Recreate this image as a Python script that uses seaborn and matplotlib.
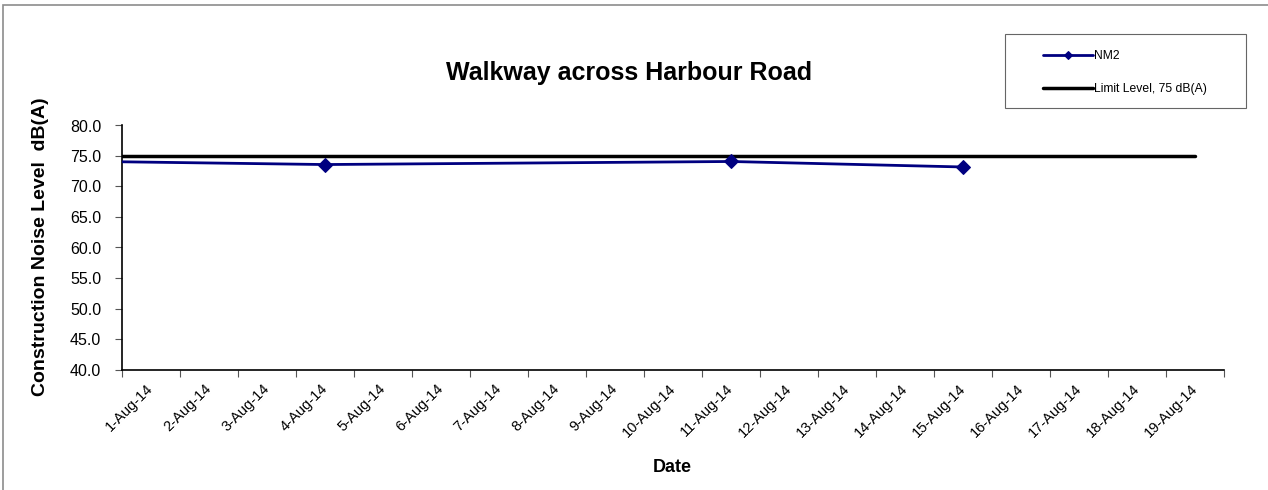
import matplotlib
matplotlib.use("Agg")
import matplotlib.pyplot as plt
from matplotlib.patches import Rectangle
import seaborn as sns
import pandas as pd

# Monitoring results for station NM2
nm2_dates = ["2014-07-28", "2014-08-04", "2014-08-11", "2014-08-15"]
nm2_levels = [74.5, 73.6, 74.1, 73.2]

# Limit level series
limit_dates = ["2014-07-28", "2014-08-19"]
limit_levels = [75.0, 75.0]

# Category dates shown on the axis
axis_days = pd.date_range("2014-08-01", "2014-08-19", freq="D")
y_ticks = [40.0, 45.0, 50.0, 55.0, 60.0, 65.0, 70.0, 75.0, 80.0]

sns.set_style("white")
plt.rcParams["font.family"] = ["Liberation Sans", "DejaVu Sans"]
plt.rcParams["text.color"] = "black"
plt.rcParams["xtick.labelcolor"] = "black"
plt.rcParams["ytick.labelcolor"] = "black"

W, H = 1268, 490
fig = plt.figure(figsize=(W / 100, H / 100), dpi=100)
ax = fig.add_axes([122 / W, 1 - 369.5 / H, 1102 / W, 244 / H])

nm2 = pd.DataFrame({"date": pd.to_datetime(nm2_dates), "level": nm2_levels})
limit = pd.DataFrame({"date": pd.to_datetime(limit_dates), "level": limit_levels})

sns.lineplot(data=nm2, x="date", y="level", ax=ax, color="#000080", lw=2,
             marker="D", markersize=7.5, markeredgecolor="#000080",
             label="NM2", zorder=4)
sns.lineplot(data=limit, x="date", y="level", ax=ax, color="black", lw=2.5,
             label="Limit Level, 75 dB(A)", zorder=3)

half = pd.Timedelta(hours=12)
ax.set_xlim(axis_days[0] - half, axis_days[-1] + half)
ax.set_ylim(40, 80)

ax.set_yticks(y_ticks)
ax.set_yticklabels([f"{v:.1f}" for v in y_ticks], fontsize=11.5, color="black")
ax.tick_params(axis="y", which="major", direction="out", length=5, width=0.8,
               color="#555555", left=True, pad=10)

ax.set_xticks(axis_days)
ax.set_xticklabels([d.strftime("%-d-%b-%y") for d in axis_days], fontsize=10.5,
                   color="black", rotation=45, ha="right", va="center",
                   rotation_mode="anchor")
ax.set_xticks(list(axis_days - half) + [axis_days[-1] + half], minor=True)
ax.tick_params(axis="x", which="major", length=0, pad=12)
ax.tick_params(axis="x", which="minor", direction="out", length=5, width=0.8,
               color="#555555", bottom=True)

ax.set_xlabel("")
ax.set_ylabel("")
for side in ("top", "right"):
    ax.spines[side].set_visible(False)
for side in ("left", "bottom"):
    ax.spines[side].set_color("black")
    ax.spines[side].set_linewidth(1.2)

fig.text(629 / W, 1 - 73 / H, "Walkway across Harbour Road", ha="center",
         va="center", fontsize=18, fontweight="bold", color="black")
fig.text(672 / W, 1 - 467 / H, "Date", ha="center", va="center",
         fontsize=13, fontweight="bold", color="black")
fig.text(41 / W, 1 - 247 / H, "Construction Noise Level  dB(A)", ha="center",
         va="center", rotation=90, fontsize=14, fontweight="bold", color="black")

leg = ax.legend(loc="upper left", bbox_to_anchor=(1037 / W, 1 - 44 / H),
                bbox_transform=fig.transFigure, frameon=False, fontsize=8.7,
                borderpad=0, handlelength=4.1, handletextpad=0.15,
                labelspacing=1.75)
leg.legend_handles[0].set_markersize(4)
for t in leg.get_texts():
    t.set_color("black")
fig.patches.append(Rectangle((1005 / W, 1 - 108 / H), 241 / W, 74 / H,
                             transform=fig.transFigure, fill=False,
                             edgecolor="#666666", lw=0.8))

# outer chart-area border
fig.patches.append(Rectangle((2.5 / W, -0.02), 1.05, 1 - 5.5 / H + 0.02,
                             transform=fig.transFigure, fill=False,
                             edgecolor="#8c8c8c", lw=1.2))

fig.savefig("out.png", dpi=100, facecolor="white")
